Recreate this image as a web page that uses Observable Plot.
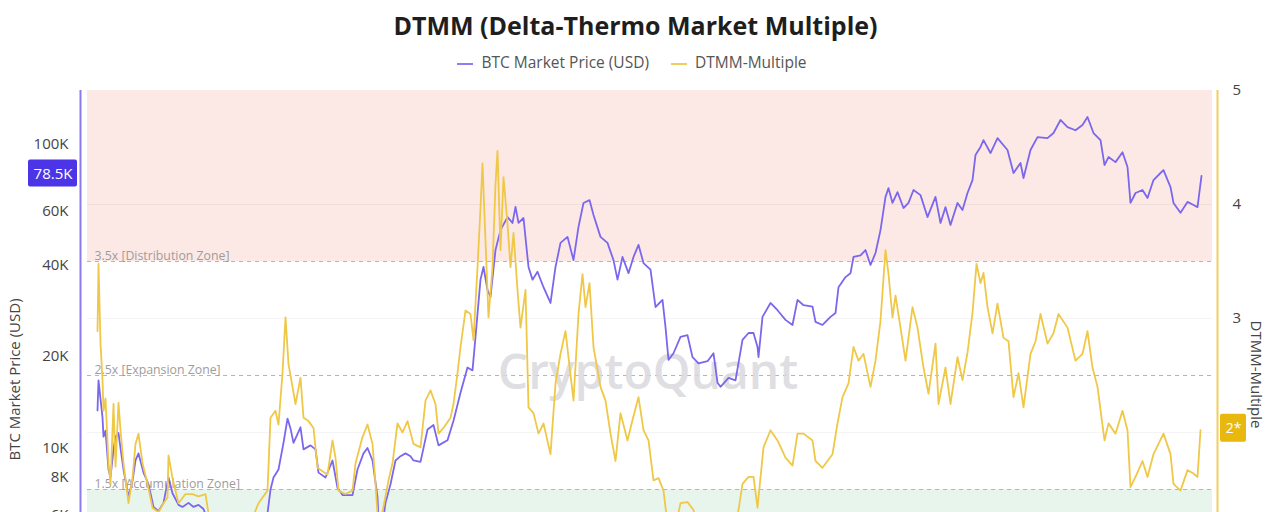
<!DOCTYPE html>
<html><head><meta charset="utf-8">
<script src="https://cdn.jsdelivr.net/npm/d3@7"></script>
<script src="https://cdn.jsdelivr.net/npm/@observablehq/plot@0.6"></script>
<style>
html,body{margin:0;padding:0;background:#fff;overflow:hidden;width:1280px;height:512px;font-family:"Open Sans",sans-serif;}
#title{position:absolute;top:8px;left:0;width:1271px;text-align:center;font-weight:700;font-size:25px;color:#1e1e1e;}
#legend{position:absolute;top:51px;left:0;width:1264px;text-align:center;font-size:15.5px;color:#555;}
.sw{display:inline-block;width:16px;height:2px;vertical-align:middle;margin-right:8px;}
#chart{position:absolute;top:80px;left:0;width:1280px;height:620px;}
#chart svg{position:absolute;top:0;left:0;}
</style></head><body>
<div id="title">DTMM (Delta-Thermo Market Multiple)</div>
<div id="legend"><span class="sw" style="background:#8d7ef2"></span>BTC Market Price (USD)<span style="display:inline-block;width:22px"></span><span class="sw" style="background:#f0cd60"></span>DTMM-Multiple</div>
<div id="chart"></div>
<script>
// ---- data (x in decimal years) ----
const priceDates = [2017.980,2017.988,2018.004,2018.020,2018.028,2018.044,2018.068,2018.084,2018.108,2018.124,2018.148,2018.164,2018.188,2018.228,2018.260,2018.284,2018.308,2018.348,2018.388,2018.428,2018.468,2018.508,2018.548,2018.580,2018.628,2018.660,2018.708,2018.748,2018.788,2018.828,2018.868,2018.908,2018.964,2019.028,2019.084,2019.164,2019.244,2019.300,2019.340,2019.364,2019.388,2019.428,2019.468,2019.500,2019.524,2019.548,2019.604,2019.628,2019.684,2019.724,2019.748,2019.804,2019.860,2019.900,2019.940,2020.020,2020.060,2020.108,2020.140,2020.180,2020.220,2020.236,2020.260,2020.284,2020.324,2020.364,2020.404,2020.444,2020.484,2020.508,2020.564,2020.620,2020.668,2020.708,2020.780,2020.828,2020.884,2020.940,2020.980,2021.004,2021.044,2021.068,2021.100,2021.124,2021.164,2021.204,2021.260,2021.300,2021.324,2021.348,2021.388,2021.428,2021.460,2021.500,2021.548,2021.604,2021.644,2021.684,2021.740,2021.788,2021.828,2021.868,2021.916,2021.948,2022.004,2022.060,2022.108,2022.140,2022.180,2022.228,2022.268,2022.308,2022.348,2022.404,2022.444,2022.500,2022.524,2022.548,2022.588,2022.644,2022.700,2022.740,2022.788,2022.860,2022.908,2022.940,2022.964,2023.028,2023.084,2023.140,2023.188,2023.228,2023.260,2023.268,2023.300,2023.364,2023.420,2023.484,2023.540,2023.580,2023.628,2023.700,2023.724,2023.780,2023.844,2023.884,2023.908,2023.964,2024.004,2024.028,2024.084,2024.124,2024.164,2024.204,2024.244,2024.284,2024.308,2024.340,2024.380,2024.428,2024.468,2024.508,2024.564,2024.620,2024.684,2024.724,2024.764,2024.804,2024.860,2024.900,2024.940,2024.980,2025.004,2025.044,2025.068,2025.124,2025.180,2025.260,2025.308,2025.364,2025.388,2025.444,2025.500,2025.580,2025.628,2025.684,2025.740,2025.804,2025.860,2025.900,2025.948,2026.004,2026.036,2026.068,2026.124,2026.180,2026.220,2026.244,2026.284,2026.340,2026.380,2026.428,2026.484,2026.508,2026.564,2026.588,2026.644,2026.700,2026.748,2026.780,2026.812];
const priceValues = [13300,16700,14500,12600,10900,11400,8500,8000,9900,10900,11200,10000,8500,6900,7800,9100,9600,8300,7600,6400,6200,6600,8000,7100,6500,6400,6600,6400,6500,6300,5700,4200,3800,3500,3600,4000,5200,5800,6100,7300,8000,8500,10400,12500,11600,10400,11700,9900,10200,9900,8300,8000,9100,7400,7000,7000,8500,9600,10000,9100,6900,5000,5600,6600,7600,9100,9400,9600,9400,9100,9000,11500,11900,10200,10600,12300,15200,18400,18000,23200,35800,39400,33100,31400,44800,52100,57500,55000,62100,55000,57100,39400,35800,38000,33800,30000,39400,47300,49500,41500,53400,64000,65400,58400,49500,47300,41500,35800,42500,37600,42500,46600,40600,38600,29100,30700,25000,19500,20500,23200,23500,19900,19000,19300,20500,16400,15900,17000,16700,22700,23900,23900,21500,19900,27000,30000,28400,26400,25400,30700,29500,29200,26000,25400,27000,27800,33800,36500,37600,42500,43000,44800,40000,43800,52100,67000,71600,64000,69500,61600,64000,70600,67900,57500,67000,55000,62000,54200,64000,60700,69000,76100,92000,97800,103000,93400,104600,95600,80300,86600,77300,95600,105400,104600,108700,120000,113700,111000,115500,122700,108700,103000,85300,90600,87200,94000,84000,64000,69000,70600,66400,76100,80300,82100,72200,64000,59400,64500,63000,62000,78500];

const dtmmDates = [2017.980,2017.988,2018.004,2018.020,2018.028,2018.044,2018.068,2018.084,2018.108,2018.124,2018.148,2018.164,2018.188,2018.228,2018.260,2018.284,2018.308,2018.340,2018.380,2018.420,2018.468,2018.508,2018.540,2018.548,2018.580,2018.628,2018.684,2018.740,2018.788,2018.844,2018.868,2018.908,2018.964,2019.028,2019.084,2019.164,2019.220,2019.268,2019.340,2019.364,2019.404,2019.428,2019.460,2019.484,2019.508,2019.540,2019.564,2019.604,2019.628,2019.668,2019.708,2019.740,2019.780,2019.820,2019.860,2019.884,2019.908,2019.964,2020.020,2020.044,2020.100,2020.140,2020.180,2020.204,2020.228,2020.268,2020.308,2020.340,2020.380,2020.420,2020.460,2020.508,2020.564,2020.604,2020.644,2020.684,2020.708,2020.748,2020.804,2020.828,2020.860,2020.884,2020.924,2020.964,2020.988,2021.020,2021.044,2021.060,2021.084,2021.108,2021.140,2021.164,2021.180,2021.204,2021.228,2021.260,2021.284,2021.308,2021.340,2021.364,2021.404,2021.428,2021.468,2021.508,2021.548,2021.604,2021.644,2021.684,2021.724,2021.748,2021.788,2021.828,2021.860,2021.884,2021.916,2021.948,2022.004,2022.044,2022.084,2022.124,2022.164,2022.220,2022.260,2022.308,2022.348,2022.388,2022.428,2022.468,2022.508,2022.540,2022.580,2022.644,2022.700,2022.748,2022.788,2022.860,2022.924,2022.980,2023.044,2023.108,2023.140,2023.188,2023.228,2023.260,2023.308,2023.364,2023.420,2023.484,2023.540,2023.580,2023.628,2023.700,2023.724,2023.780,2023.860,2023.900,2023.940,2023.988,2024.028,2024.068,2024.108,2024.164,2024.204,2024.244,2024.284,2024.308,2024.340,2024.364,2024.404,2024.444,2024.500,2024.540,2024.588,2024.628,2024.684,2024.708,2024.764,2024.804,2024.860,2024.900,2024.940,2024.980,2025.012,2025.044,2025.068,2025.100,2025.140,2025.180,2025.228,2025.268,2025.308,2025.348,2025.388,2025.444,2025.484,2025.524,2025.580,2025.628,2025.668,2025.740,2025.804,2025.860,2025.900,2025.940,2025.980,2026.036,2026.068,2026.124,2026.180,2026.220,2026.244,2026.284,2026.340,2026.380,2026.428,2026.508,2026.564,2026.588,2026.644,2026.700,2026.748,2026.780,2026.804];
const dtmmValues = [2.89,3.48,2.78,2.46,2.19,2.30,1.73,1.55,2.25,1.70,2.26,2.02,1.73,1.38,1.60,1.90,1.99,1.73,1.55,1.34,1.30,1.38,1.43,1.80,1.60,1.38,1.46,1.46,1.44,1.46,1.29,1.05,0.95,0.88,0.92,1.05,1.25,1.38,1.49,2.13,2.19,2.07,2.52,3.01,2.60,2.40,2.25,2.48,2.13,2.10,2.04,1.69,1.66,1.63,1.93,1.78,1.49,1.46,1.49,1.73,1.96,2.07,1.90,1.55,1.15,1.35,1.58,1.73,2.08,2.00,2.10,1.90,1.87,2.28,2.37,2.25,1.99,2.04,2.13,2.25,2.52,2.75,3.07,3.04,2.81,3.45,3.97,4.36,3.68,3.01,3.45,4.18,4.47,3.60,4.24,3.83,3.45,3.75,3.25,2.92,3.25,2.22,2.17,1.99,2.08,1.81,2.43,2.69,2.89,2.66,2.28,3.04,3.39,3.10,3.31,2.75,2.40,2.28,1.99,1.75,2.17,1.93,2.11,2.31,2.02,1.93,1.58,1.60,1.49,1.20,1.05,1.38,1.39,1.32,1.15,1.10,1.00,0.95,1.05,1.32,1.55,1.61,1.61,1.34,1.87,2.02,1.93,1.78,1.71,1.99,1.99,1.93,1.75,1.69,1.81,2.08,2.31,2.43,2.75,2.63,2.69,2.40,2.63,2.98,3.60,3.39,3.01,3.20,2.92,2.63,3.10,2.92,2.57,2.34,2.78,2.25,2.57,2.25,2.66,2.46,2.70,3.05,3.48,3.31,3.40,3.10,2.87,3.13,2.83,2.80,2.31,2.52,2.22,2.69,2.80,3.04,2.78,2.87,3.04,2.92,2.63,2.69,2.89,2.57,2.40,1.93,2.08,1.99,2.19,2.02,1.52,1.61,1.75,1.61,1.81,1.99,1.81,1.55,1.49,1.67,1.64,1.61,2.02];

const xDomain = [2017.9, 2026.9];
const priceDomain = [2000, 150000];
const priceTicks = [4000, 6000, 8000, 10000, 20000, 40000, 60000, 100000];
const dtmmDomain = [0, 5];
const dtmmTicks = [3, 4, 5];
const gridLevels = [1, 2, 3, 4];
const zoneLevels = [3.5, 2.5, 1.5];
const zoneNames = ["3.5x [Distribution Zone]", "2.5x [Expansion Zone]", "1.5x [Accumulation Zone]"];
const bandLow = [3.5, 0];
const bandHigh = [5, 1.5];
const bandColors = ["#fce9e5", "#e8f5ec"];
const lastPriceLabel = "78.5K";
const lastDtmmLabel = "2*";

const priceRows = priceDates.map((t, i) => ({t, v: priceValues[i]}));
const dtmmRows = dtmmDates.map((t, i) => ({t, v: dtmmValues[i]}));
const bands = bandLow.map((lo, i) => ({lo, hi: bandHigh[i], c: bandColors[i]}));

const PURPLE = "#7b67ee", YELLOW = "#efc848";
const common = {
  width: 1280, height: 620, marginTop: 10, marginBottom: 40, marginLeft: 87, marginRight: 68,
  x: {type: "linear", domain: xDomain, axis: null},
  style: {background: "transparent", fontFamily: "'Open Sans', sans-serif", overflow: "visible"}
};

// layer 1: zones, grid, labels, watermark (DTMM scale)
const back = Plot.plot({
  ...common,
  y: {domain: dtmmDomain, axis: null},
  marks: [
    Plot.rect(bands, {x1: xDomain[0], x2: xDomain[1], y1: "lo", y2: "hi", fill: "c"}),
    Plot.ruleY(gridLevels, {stroke: "#000", strokeOpacity: 0.045}),
    Plot.ruleY(zoneLevels, {stroke: "#b5b5b5", strokeDasharray: "4,4"}),
    Plot.text(zoneLevels, {x: xDomain[0], y: d => d, text: (d, i) => zoneNames[i], dx: 7, dy: -5, textAnchor: "start", fontSize: 12.3, fill: "#9c9c9c"}),
    Plot.text(["CryptoQuant"], {frameAnchor: "middle", textAnchor: "middle", text: d => d, dx: -2, dy: -2, fontSize: 48, fontWeight: 600, fill: "#d9d9de", fillOpacity: 0.85})
  ]
});

// layer 2: BTC price (log scale, left axis)
const pricePlot = Plot.plot({
  ...common,
  y: {type: "log", domain: priceDomain},
  marks: [
    Plot.axisY(priceTicks, {tickSize: 0, tickPadding: 19, fontSize: 15, fill: "#444", tickFormat: d => d / 1000 + "K", label: null}),
    Plot.ruleX([xDomain[0]], {dx: -7, stroke: "#8a7bf2", strokeWidth: 2}),
    Plot.line(priceRows, {x: "t", y: "v", stroke: PURPLE, strokeWidth: 1.8}),
    Plot.rect([priceRows[priceRows.length - 1]], {x1: () => xDomain[0], x2: () => xDomain[0], y1: "v", y2: "v", insetLeft: -59, insetRight: 10, insetTop: -16, insetBottom: -11, fill: "#4b35e6", rx: 2}),
    Plot.text([priceRows[priceRows.length - 1]], {x: () => xDomain[0], y: "v", text: () => lastPriceLabel, textAnchor: "middle", dx: -34.5, dy: -2, fontSize: 15, fill: "#fff"}),
    Plot.text(["BTC Market Price (USD)"], {frameAnchor: "left", textAnchor: "middle", text: d => d, dx: -72, dy: 4, rotate: -90, fontSize: 15, fill: "#444"})
  ]
});

// layer 3: DTMM multiple (linear scale, right axis)
const dtmmPlot = Plot.plot({
  ...common,
  y: {domain: dtmmDomain},
  marks: [
    Plot.axisY(dtmmTicks, {anchor: "right", tickSize: 0, tickPadding: 20, fontSize: 15, fill: "#444", tickFormat: d => String(d), label: null}),
    Plot.ruleX([xDomain[1]], {dx: 5, stroke: "#f0cf60", strokeWidth: 2}),
    Plot.line(dtmmRows, {x: "t", y: "v", stroke: YELLOW, strokeWidth: 1.8}),
    Plot.rect([dtmmRows[dtmmRows.length - 1]], {x1: () => xDomain[1], x2: () => xDomain[1], y1: "v", y2: "v", insetLeft: 8, insetRight: -34, insetTop: -16, insetBottom: -12, fill: "#e8b80e", rx: 2}),
    Plot.text([dtmmRows[dtmmRows.length - 1]], {x: () => xDomain[1], y: "v", text: () => lastDtmmLabel, textAnchor: "middle", dx: 21, dy: -2, fontSize: 14, fill: "#fff"}),
    Plot.text(["DTMM-Multiple"], {frameAnchor: "right", textAnchor: "middle", text: d => d, dx: 43, dy: -1, rotate: 90, fontSize: 15, fill: "#444"})
  ]
});

const chart = document.getElementById("chart");
chart.append(back, pricePlot, dtmmPlot);
</script>
</body></html>
